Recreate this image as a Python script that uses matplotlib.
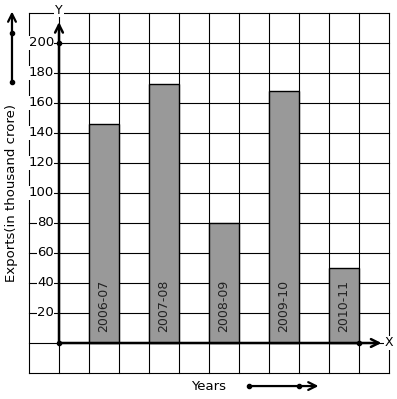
import matplotlib.pyplot as plt

years = ["2006-07", "2007-08", "2008-09", "2009-10", "2010-11"]
exports = [146, 173, 80, 168, 50]
bar_pos = [1.5, 3.5, 5.5, 7.5, 9.5]
y_ticks = [20, 40, 60, 80, 100, 120, 140, 160, 180, 200]

fig = plt.figure(figsize=(3.97, 3.99), dpi=100)
ax = fig.add_axes([0, 0, 1, 1])
# 30 px per x unit, 1.5 px per y unit
ax.set_xlim(-1 - 29 / 30, 11 + 8 / 30)
ax.set_ylim(-20 - 26 / 1.5, 220 + 13 / 1.5)
ax.axis("off")

# grid
for gx in range(-1, 12):
    ax.plot([gx, gx], [-20, 220], color="black", lw=0.8, zorder=1)
for gy in range(-20, 221, 20):
    ax.plot([-1, 11], [gy, gy], color="black", lw=0.8, zorder=1)

# bars
ax.bar(bar_pos, exports, width=1, color="#999999", edgecolor="black", lw=1, zorder=2)
for x, lab in zip(bar_pos, years):
    ax.text(x, 7, lab, rotation=90, ha="center", va="bottom", fontsize=9,
            color="#222222", zorder=3)

# axes with arrows
ax.annotate("", xy=(0, 214), xytext=(0, 0),
            arrowprops=dict(arrowstyle="->", lw=1.8, color="black",
                            mutation_scale=14, shrinkA=0, shrinkB=0), zorder=4)
ax.annotate("", xy=(10.75, 0), xytext=(0, 0),
            arrowprops=dict(arrowstyle="->", lw=1.8, color="black",
                            mutation_scale=14, shrinkA=0, shrinkB=0), zorder=4)
ax.plot([0, 0, 10], [0, 200, 0], "o", color="black", ms=3, zorder=5)
ax.text(0, 222, "Y", ha="center", va="center", fontsize=9,
        bbox=dict(facecolor="white", edgecolor="none", pad=0.5), zorder=5)
ax.text(10.85, 0, "X", ha="left", va="center", fontsize=9,
        bbox=dict(facecolor="white", edgecolor="none", pad=0.5), zorder=5)

for t in y_ticks:
    ax.text(-0.17, t, str(t), ha="right", va="center", fontsize=9.5,
            bbox=dict(facecolor="white", edgecolor="none", pad=0.3), zorder=3)

# left decoration arrow
ax.annotate("", xy=(-1.567, 221), xytext=(-1.567, 174),
            arrowprops=dict(arrowstyle="->", lw=1.6, color="black",
                            mutation_scale=14, shrinkA=0, shrinkB=0))
ax.plot([-1.567, -1.567], [207, 174], "o", color="black", ms=3)
ax.text(-1.567, 100, "Exports(in thousand crore)", rotation=90, ha="center",
        va="center", fontsize=9.5)

# bottom decoration arrow
ax.annotate("", xy=(8.65, -28.7), xytext=(6.33, -28.7),
            arrowprops=dict(arrowstyle="->", lw=1.6, color="black",
                            mutation_scale=14, shrinkA=0, shrinkB=0))
ax.plot([6.33, 8.0], [-28.7, -28.7], "o", color="black", ms=3)
ax.text(5.0, -28.7, "Years", ha="center", va="center", fontsize=9.5)

fig.savefig("out.png", dpi=100)
